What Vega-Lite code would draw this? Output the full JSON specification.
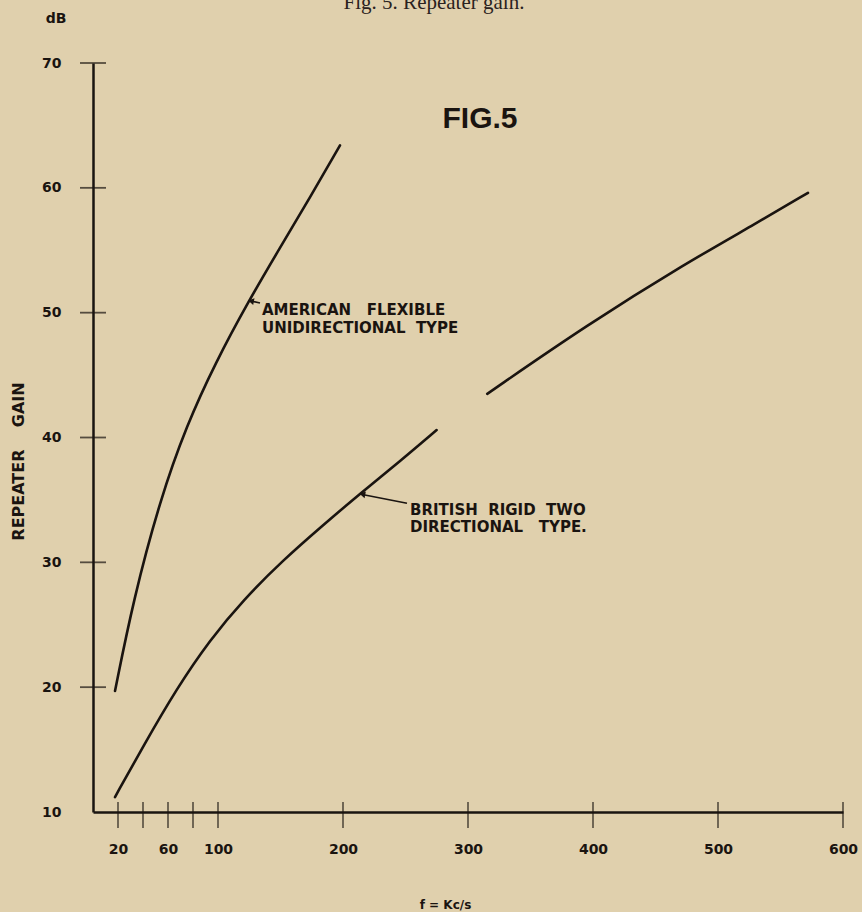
{
  "$schema": "https://vega.github.io/schema/vega-lite/v6.json",
  "width": 750,
  "height": 749,
  "autosize": {"type": "none"},
  "padding": {"left": 93, "top": 63, "right": 19, "bottom": 100},
  "background": "#e0d0ad",
  "config": {"view": {"stroke": null}, "font": "DejaVu Sans"},
  "datasets": {
    "curves": [
      {"series": "American", "f": 17.6, "gain": 19.7},
      {"series": "American", "f": 32.3, "gain": 27.0},
      {"series": "American", "f": 53.6, "gain": 35.0},
      {"series": "American", "f": 75, "gain": 41.0},
      {"series": "American", "f": 98, "gain": 46.0},
      {"series": "American", "f": 124.3, "gain": 50.9},
      {"series": "American", "f": 149.6, "gain": 55.2},
      {"series": "American", "f": 174, "gain": 59.3},
      {"series": "American", "f": 197.6, "gain": 63.4},
      {"series": "British A", "f": 17.6, "gain": 11.2},
      {"series": "British A", "f": 40.3, "gain": 15.3},
      {"series": "British A", "f": 67, "gain": 19.9},
      {"series": "British A", "f": 93.6, "gain": 23.8},
      {"series": "British A", "f": 120.3, "gain": 27.0},
      {"series": "British A", "f": 152.3, "gain": 30.2},
      {"series": "British A", "f": 184.3, "gain": 33.0},
      {"series": "British A", "f": 213.6, "gain": 35.5},
      {"series": "British A", "f": 245.6, "gain": 38.1},
      {"series": "British A", "f": 274.9, "gain": 40.6},
      {"series": "British B", "f": 315.4, "gain": 43.5},
      {"series": "British B", "f": 395, "gain": 49.0},
      {"series": "British B", "f": 475, "gain": 54.0},
      {"series": "British B", "f": 528, "gain": 57.0},
      {"series": "British B", "f": 572, "gain": 59.6}
    ],
    "xticks": [
      {"f": 20, "gain": 10}, {"f": 40, "gain": 10}, {"f": 60, "gain": 10}, {"f": 80, "gain": 10},
      {"f": 100, "gain": 10}, {"f": 200, "gain": 10}, {"f": 300, "gain": 10}, {"f": 400, "gain": 10},
      {"f": 500, "gain": 10}, {"f": 600, "gain": 10}
    ],
    "yticks": [
      {"f": 0, "gain": 20}, {"f": 0, "gain": 30}, {"f": 0, "gain": 40},
      {"f": 0, "gain": 50}, {"f": 0, "gain": 60}, {"f": 0, "gain": 70}
    ],
    "arrows": [
      {"arrow": "American", "f": 133.6, "gain": 50.77},
      {"arrow": "American", "f": 127.0, "gain": 50.92},
      {"arrow": "British", "f": 251.2, "gain": 34.74},
      {"arrow": "British", "f": 217.5, "gain": 35.4}
    ],
    "heads": [
      {"arrow": "American", "f": 126.4, "gain": 50.93},
      {"arrow": "British", "f": 215.5, "gain": 35.45}
    ],
    "notes": [
      {"f": 135.2, "gain": 50.25, "label": "AMERICAN\u00a0\u00a0\u00a0FLEXIBLE"},
      {"f": 135.2, "gain": 48.8, "label": "UNIDIRECTIONAL\u00a0\u00a0TYPE"},
      {"f": 253.6, "gain": 34.2, "label": "BRITISH\u00a0\u00a0RIGID\u00a0\u00a0TWO"},
      {"f": 253.6, "gain": 32.85, "label": "DIRECTIONAL\u00a0\u00a0\u00a0TYPE."}
    ],
    "fig": [{"f": 309.6, "gain": 65.5, "label": "FIG.5"}],
    "unit": [{"f": -29.6, "gain": 73.5, "label": "dB"}],
    "caption": [{"f": 272.8, "gain": 74.3, "label": "Fig. 5. Repeater gain."}]
  },
  "encoding": {
    "x": {
      "field": "f",
      "type": "quantitative",
      "scale": {"domain": [0, 600], "nice": false, "zero": false},
      "axis": {
        "values": [20, 60, 100, 200, 300, 400, 500, 600],
        "ticks": false,
        "grid": false,
        "domainColor": "#1a1410",
        "domainWidth": 2.5,
        "labelFont": "DejaVu Sans",
        "labelFontWeight": "bold",
        "labelFontSize": 14,
        "labelColor": "#1a1410",
        "labelPadding": 30,
        "labelFlush": false,
        "labelOverlap": false,
        "title": "f\u00a0=\u00a0Kc/s",
        "titleX": 352,
        "titleY": 92,
        "titleFont": "DejaVu Sans",
        "titleFontSize": 12,
        "titleFontWeight": "bold",
        "titleColor": "#1a1410",
        "titleBaseline": "middle",
        "titleAlign": "center"
      }
    },
    "y": {
      "field": "gain",
      "type": "quantitative",
      "scale": {"domain": [10, 70], "nice": false, "zero": false},
      "axis": {
        "values": [10, 20, 30, 40, 50, 60, 70],
        "ticks": false,
        "grid": false,
        "domainColor": "#1a1410",
        "domainWidth": 2.5,
        "labelFont": "DejaVu Sans",
        "labelFontWeight": "bold",
        "labelFontSize": 14,
        "labelColor": "#1a1410",
        "labelPadding": 32,
        "labelOverlap": false,
        "labelFlush": false,
        "title": "REPEATER\u00a0\u00a0\u00a0\u00a0GAIN",
        "titleX": -75,
        "titleY": 398,
        "titleFont": "DejaVu Sans",
        "titleFontSize": 16,
        "titleFontWeight": "bold",
        "titleColor": "#1a1410",
        "titleBaseline": "middle",
        "titleAlign": "center"
      }
    }
  },
  "layer": [
    {
      "data": {"name": "xticks"},
      "mark": {"type": "tick", "orient": "vertical", "size": 26, "thickness": 1.6, "color": "#1a1410", "yOffset": 3}
    },
    {
      "data": {"name": "yticks"},
      "mark": {"type": "tick", "orient": "horizontal", "size": 26, "thickness": 1.8, "color": "#1a1410"}
    },
    {
      "data": {"name": "curves"},
      "mark": {"type": "line", "interpolate": "basis", "strokeWidth": 2.6, "color": "#1a1410", "strokeCap": "round"},
      "encoding": {"detail": {"field": "series"}}
    },
    {
      "data": {"name": "arrows"},
      "mark": {"type": "line", "strokeWidth": 1.6, "color": "#1a1410"},
      "encoding": {"detail": {"field": "arrow"}}
    },
    {
      "data": {"name": "heads"},
      "mark": {"type": "point", "shape": "triangle-left", "filled": true, "size": 45, "angle": 11, "color": "#1a1410", "opacity": 1}
    },
    {
      "data": {"name": "notes"},
      "mark": {"type": "text", "align": "left", "baseline": "middle", "font": "DejaVu Sans", "fontWeight": "bold", "fontSize": 15, "color": "#1a1410"},
      "encoding": {"text": {"field": "label"}}
    },
    {
      "data": {"name": "fig"},
      "mark": {"type": "text", "align": "center", "baseline": "middle", "font": "Liberation Sans", "fontWeight": "bold", "fontSize": 30, "color": "#1a1410"},
      "encoding": {"text": {"field": "label"}}
    },
    {
      "data": {"name": "unit"},
      "mark": {"type": "text", "align": "center", "baseline": "middle", "font": "DejaVu Sans", "fontWeight": "bold", "fontSize": 14, "color": "#1a1410"},
      "encoding": {"text": {"field": "label"}}
    },
    {
      "data": {"name": "caption"},
      "mark": {"type": "text", "align": "center", "baseline": "alphabetic", "font": "Liberation Serif", "fontSize": 21, "color": "#2a2220"},
      "encoding": {"text": {"field": "label"}}
    }
  ]
}
